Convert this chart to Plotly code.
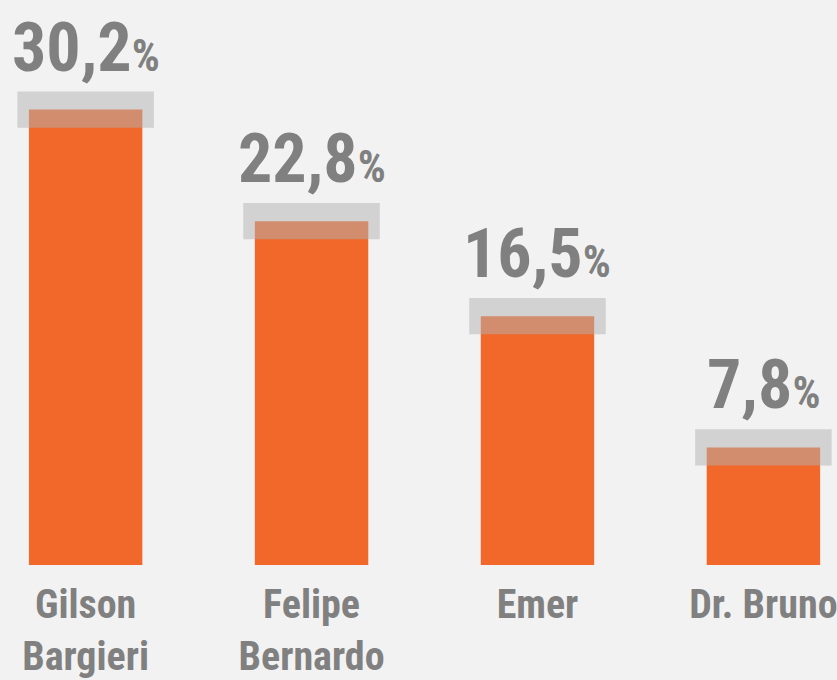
import plotly.graph_objects as go

categorias = ["Gilson<br>Bargieri", "Felipe<br>Bernardo", "Emer", "Dr. Bruno"]
valores = [30.2, 22.8, 16.5, 7.8]
margem = [1.2, 1.2, 1.2, 1.2]
rotulos = ["30,2", "22,8", "16,5", "7,8"]

FONT = "'Roboto Condensed', 'Liberation Sans Narrow', 'Arial Narrow', 'DejaVu Sans Condensed', Roboto, sans-serif"
GRAY = "#808080"
BG = "#f2f2f2"
ORANGE = "#f2672a"

fig = go.Figure()
fig.add_trace(go.Bar(
    x=categorias, y=valores, width=0.502,
    marker=dict(color=ORANGE, line=dict(width=0)),
    hoverinfo="skip",
))
fig.add_trace(go.Bar(
    x=categorias, y=[2 * m for m in margem],
    base=[v - m for v, m in zip(valores, margem)],
    width=0.604,
    marker=dict(color="rgba(178,178,178,0.5)", line=dict(width=0)),
    hoverinfo="skip",
))

for c, v, m, r in zip(categorias, valores, margem, rotulos):
    fig.add_annotation(
        x=c, y=v + m, yanchor="bottom", xanchor="center",
        text=f"<b>{r}<span style='font-size:44px'>%</span></b>",
        showarrow=False, yshift=2,
        font=dict(family=FONT, size=68, color=GRAY),
    )

fig.update_layout(
    width=837, height=680,
    barmode="overlay",
    showlegend=False,
    paper_bgcolor=BG, plot_bgcolor=BG,
    margin=dict(l=0, r=0, t=0, b=113),
    xaxis=dict(range=[-0.379, 3.308], showgrid=False, zeroline=False,
               showline=False, ticks="", ticklabelstandoff=12,
               tickfont=dict(family=FONT, size=40, color=GRAY)),
    yaxis=dict(range=[0, 37.47], visible=False),
)
fig.for_each_xaxis(lambda a: a.update(ticktext=[f"<b>{c}</b>" for c in categorias],
                                      tickvals=categorias))
fig.write_html("out.html", config={"displayModeBar": False},
               post_script="document.body.style.margin='0';")
